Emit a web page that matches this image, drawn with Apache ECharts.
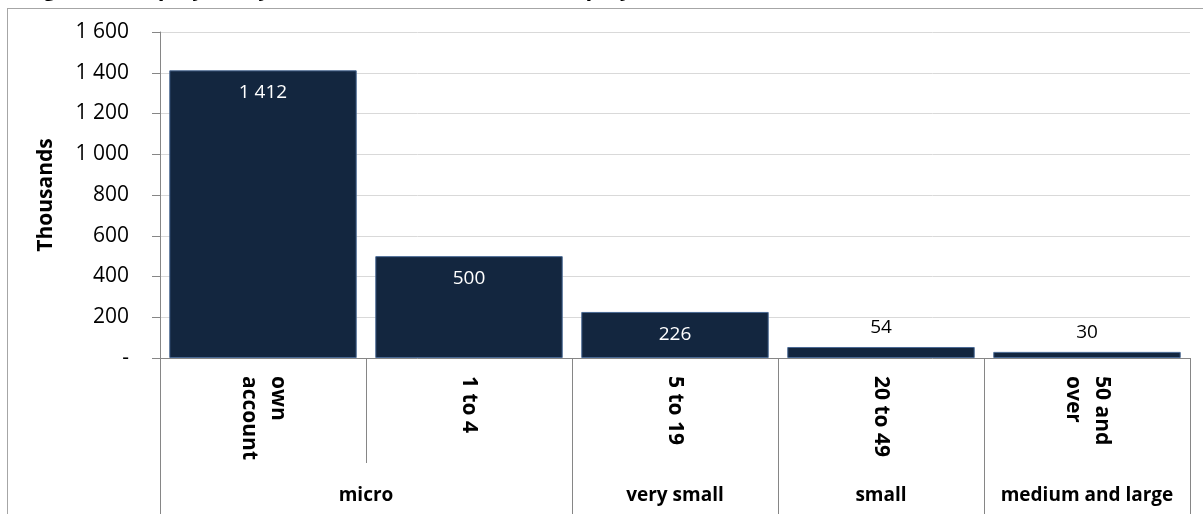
<!DOCTYPE html>
<html>
<head>
<meta charset="utf-8">
<script src="https://cdn.jsdelivr.net/npm/echarts@6/dist/echarts.min.js"></script>
<style>
  html, body { margin: 0; padding: 0; background: #fff; overflow: hidden; }
  #frame { position: absolute; left: 7px; top: 8px; width: 1400px; height: 700px; border: 1px solid #a6a6a6; box-sizing: border-box; }
  #chart { position: absolute; left: 0; top: 0; width: 1203px; height: 514px; }
</style>
</head>
<body>
<div id="frame"></div>
<div id="chart"></div>
<script>
// ---- data ----
const titleText = 'Figure 1: Employers by size class and number of employees, 2014';
const yAxisName = 'Thousands';
const categories = ['own\naccount', '1 to 4', '5 to 19', '20 to 49', '50 and\nover'];
const values = [1412, 500, 226, 54, 30];
const groups = ['micro', 'very small', 'small', 'medium and large'];
const groupSpans = [2, 1, 1, 1];
const yMin = 0, yMax = 1600, yStep = 200;

// ---- derived ----
const boundaries = [0];
groupSpans.forEach(s => boundaries.push(boundaries[boundaries.length - 1] + s));
const groupCenters = [];
for (let i = 0; i < groups.length; i++) groupCenters.push((boundaries[i] + boundaries[i + 1]) / 2);

function fmtThousands(v) {
  if (v === 0) return '-';
  return String(v).replace(/\B(?=(\d{3})+(?!\d))/g, ' ');
}

const FONT = 'Open Sans';
const barData = values.map(v => ({
  value: v,
  label: v > 100
    ? { position: 'insideTop', distance: 13, color: '#ffffff' }
    : { position: 'top', distance: 10, color: '#000000' }
}));

const chart = echarts.init(document.getElementById('chart'), null, { renderer: 'canvas' });
chart.setOption({
  animation: false,
  backgroundColor: 'transparent',
  title: {
    text: titleText,
    left: 20,
    top: -26,
    textStyle: { fontFamily: FONT, fontWeight: 'bold', fontSize: 22, color: '#000' }
  },
  grid: { left: 160, right: 13, top: 32, bottom: 156, containLabel: false },
  xAxis: [
    {
      type: 'category',
      data: categories,
      position: 'bottom',
      axisLine: { show: true, lineStyle: { color: '#868686', width: 1 } },
      axisTick: { show: true, alignWithLabel: false, interval: 0, length: 105, lineStyle: { color: '#868686' } },
      axisLabel: {
        interval: 0,
        rotate: -90,
        margin: 18,
        fontFamily: FONT,
        fontWeight: 'bold',
        fontSize: 21,
        lineHeight: 29,
        color: '#000'
      }
    },
    {
      type: 'value',
      min: 0,
      max: categories.length,
      position: 'bottom',
      splitLine: { show: false },
      axisLine: { show: false },
      axisTick: { show: true, customValues: boundaries, length: 170, lineStyle: { color: '#868686' } },
      axisLabel: {
        show: true,
        customValues: groupCenters,
        margin: 128,
        fontFamily: FONT,
        fontWeight: 'bold',
        fontSize: 19,
        color: '#000',
        formatter: function (v) {
          const idx = groupCenters.findIndex(c => Math.abs(c - v) < 1e-6);
          return idx >= 0 ? groups[idx] : '';
        }
      }
    }
  ],
  yAxis: {
    type: 'value',
    min: yMin,
    max: yMax,
    interval: yStep,
    name: yAxisName,
    nameLocation: 'middle',
    nameGap: 103,
    nameRotate: 90,
    nameTextStyle: { fontFamily: FONT, fontWeight: 'bold', fontSize: 21, color: '#000' },
    axisLine: { show: true, lineStyle: { color: '#868686', width: 1 } },
    axisTick: { show: true, inside: false, length: 8, lineStyle: { color: '#868686' } },
    splitLine: { show: true, lineStyle: { color: '#d9d9d9', width: 1 } },
    axisLabel: {
      margin: 31,
      fontFamily: FONT,
      fontSize: 21,
      color: '#000',
      formatter: fmtThousands
    }
  },
  series: [
    {
      type: 'bar',
      xAxisIndex: 0,
      data: barData,
      barCategoryGap: '9%',
      itemStyle: { color: '#13263f', borderColor: '#4a6a95', borderWidth: 1 },
      label: {
        show: true,
        fontFamily: FONT,
        fontSize: 19,
        formatter: p => fmtThousands(p.value)
      }
    }
  ]
});
</script>
</body>
</html>
